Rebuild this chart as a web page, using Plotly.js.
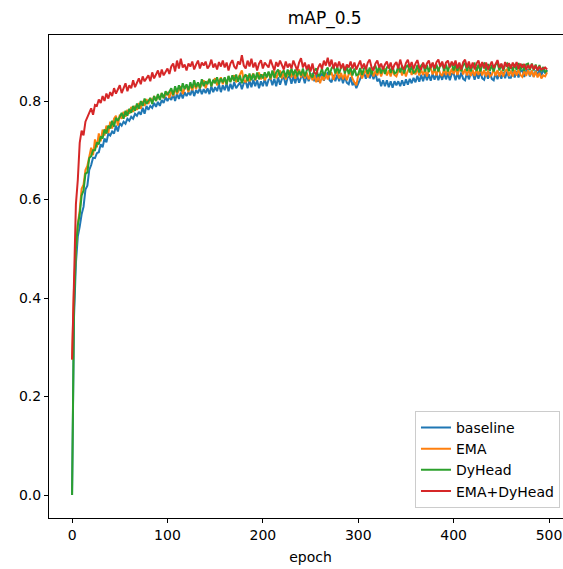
<!DOCTYPE html>
<html>
<head>
<meta charset="utf-8">
<script src="https://cdn.plot.ly/plotly-3.0.1.min.js"></script>
<style>
html,body{margin:0;padding:0;overflow:hidden;background:#fff;}
#chart{width:590px;height:569px;}
</style>
</head>
<body>
<div id="chart"></div>
<script>
// mAP_0.5 values sampled every 2 epochs (epoch 0, 2, 4, ... 498)
const seriesNames = ["baseline", "EMA", "DyHead", "EMA+DyHead"];
const seriesColors = ["#1f77b4", "#ff7f0e", "#2ca02c", "#d62728"];

const baseline = [
0,.36,.47,.525,.545,.57,.585,.62,.628,.66,
.67,.685,.684,.694,.696,.712,.706,.724,.716,.734,
.73,.738,.734,.75,.738,.755,.75,.758,.754,.764,
.76,.768,.764,.774,.77,.778,.772,.786,.774,.79,
.782,.79,.786,.796,.788,.798,.79,.802,.796,.808,
.80,.808,.802,.814,.80,.815,.804,.817,.805,.818,
.81,.818,.812,.824,.81,.822,.816,.826,.814,.824,
.816,.826,.814,.83,.818,.828,.82,.834,.818,.832,
.822,.836,.82,.835,.824,.838,.826,.832,.838,.824,
.836,.84,.826,.842,.828,.843,.83,.842,.826,.84,
.83,.845,.83,.843,.846,.832,.845,.83,.848,.833,
.845,.848,.832,.848,.85,.835,.85,.836,.852,.837,
.848,.851,.836,.853,.84,.852,.855,.84,.853,.839,
.852,.855,.841,.854,.857,.842,.838,.853,.84,.854,
.84,.852,.836,.85,.837,.834,.848,.832,.838,.826,
.835,.842,.854,.858,.845,.86,.846,.858,.844,.857,
.84,.845,.83,.842,.83,.842,.828,.84,.827,.84,
.832,.84,.83,.842,.831,.844,.833,.845,.836,.847,
.838,.851,.839,.853,.84,.855,.842,.854,.841,.856,
.843,.856,.842,.855,.843,.857,.844,.856,.842,.855,
.856,.842,.857,.844,.858,.845,.842,.857,.844,.856,
.857,.843,.858,.845,.859,.846,.843,.858,.845,.859,
.845,.842,.857,.844,.858,.845,.859,.846,.86,.847,
.847,.86,.848,.861,.848,.86,.862,.849,.861,.863,
.85,.862,.849,.862,.851,.864,.852,.864,.856,.863
];

const ema = [
.275,.42,.50,.55,.578,.622,.63,.66,.668,.69,
.705,.69,.722,.706,.734,.718,.742,.73,.75,.735,
.758,.744,.764,.77,.75,.772,.764,.778,.768,.782,
.774,.788,.778,.79,.782,.796,.784,.80,.79,.804,
.794,.806,.798,.81,.80,.812,.804,.816,.806,.812,
.818,.806,.822,.81,.826,.814,.822,.83,.814,.826,
.832,.818,.834,.822,.836,.824,.838,.826,.834,.842,
.826,.838,.844,.83,.84,.846,.832,.842,.848,.834,
.846,.834,.85,.84,.846,.852,.838,.848,.854,.862,
.842,.838,.852,.84,.85,.856,.842,.852,.858,.844,
.854,.842,.852,.858,.844,.856,.86,.846,.856,.862,
.846,.858,.844,.856,.862,.848,.86,.845,.858,.864,
.848,.86,.846,.858,.844,.855,.842,.853,.838,.85,
.836,.85,.842,.856,.844,.854,.858,.843,.855,.86,
.846,.857,.844,.856,.842,.854,.858,.845,.838,.832,
.852,.858,.846,.857,.862,.848,.859,.864,.85,.861,
.852,.864,.85,.861,.866,.852,.862,.85,.864,.853,
.85,.861,.866,.852,.863,.85,.862,.867,.853,.864,
.854,.866,.852,.863,.853,.864,.85,.862,.867,.854,
.864,.852,.867,.855,.851,.865,.853,.864,.852,.866,
.855,.867,.853,.864,.868,.854,.865,.852,.864,.851,
.863,.851,.864,.853,.866,.852,.863,.85,.862,.85,
.853,.865,.851,.863,.85,.862,.85,.861,.865,.851,
.862,.85,.863,.852,.864,.853,.849,.862,.851,.863,
.852,.862,.849,.86,.848,.857,.846,.852,.85,.858
];

const dyhead = [
0,.38,.50,.548,.57,.608,.618,.652,.655,.684,
.688,.70,.70,.716,.712,.728,.724,.742,.734,.75,
.744,.76,.748,.766,.76,.768,.776,.764,.78,.77,
.784,.776,.79,.78,.795,.784,.80,.79,.805,.794,
.80,.806,.794,.81,.80,.814,.802,.816,.806,.82,
.812,.818,.826,.812,.83,.818,.832,.82,.836,.824,
.834,.822,.838,.826,.842,.828,.838,.826,.844,.83,
.84,.834,.845,.83,.843,.836,.848,.834,.846,.838,
.848,.834,.851,.838,.852,.84,.854,.839,.852,.836,
.848,.854,.84,.856,.842,.855,.843,.858,.844,.854,
.846,.858,.848,.86,.846,.862,.847,.858,.864,.848,
.858,.862,.848,.864,.85,.866,.852,.864,.85,.861,
.852,.866,.85,.862,.868,.852,.848,.862,.866,.851,
.854,.866,.85,.862,.868,.853,.866,.872,.856,.869,
.856,.869,.872,.856,.87,.855,.868,.852,.866,.852,
.854,.867,.853,.866,.87,.855,.868,.854,.867,.872,
.857,.871,.856,.869,.855,.868,.872,.857,.87,.856,
.858,.871,.858,.872,.856,.869,.873,.858,.871,.857,
.86,.873,.858,.872,.876,.86,.873,.859,.872,.875,
.861,.874,.86,.873,.877,.861,.874,.86,.873,.876,
.862,.875,.861,.874,.86,.873,.877,.861,.874,.86,
.873,.876,.861,.874,.86,.873,.876,.862,.875,.861,
.873,.86,.874,.877,.862,.875,.861,.873,.876,.861,
.874,.861,.875,.863,.877,.862,.875,.861,.874,.876,
.863,.876,.862,.874,.861,.873,.86,.869,.859,.862
];

const emaDyhead = [
.275,.47,.59,.64,.715,.74,.73,.758,.768,.775,
.785,.772,.792,.79,.803,.796,.81,.80,.815,.805,
.818,.81,.826,.815,.822,.832,.816,.828,.836,.82,
.832,.826,.842,.828,.838,.846,.834,.85,.84,.845,
.852,.84,.858,.846,.855,.862,.848,.864,.852,.858,
.866,.855,.87,.876,.86,.882,.866,.886,.868,.874,
.862,.876,.87,.88,.864,.874,.882,.866,.878,.872,
.88,.866,.872,.884,.868,.876,.864,.879,.87,.882,
.868,.878,.862,.876,.883,.87,.865,.88,.874,.893,
.872,.866,.882,.87,.886,.868,.878,.862,.876,.883,
.866,.878,.872,.868,.884,.874,.862,.879,.87,.882,
.874,.864,.88,.868,.876,.866,.882,.872,.862,.878,
.887,.868,.878,.864,.874,.86,.876,.858,.854,.868,
.876,.865,.882,.872,.888,.87,.884,.866,.878,.868,
.88,.866,.876,.862,.874,.868,.88,.866,.878,.864,
.874,.882,.866,.876,.864,.878,.884,.868,.862,.876,
.882,.868,.876,.864,.874,.88,.866,.878,.863,.874,
.879,.866,.884,.87,.864,.877,.884,.868,.879,.865,
.876,.883,.868,.864,.878,.866,.876,.882,.867,.878,
.866,.879,.884,.87,.88,.866,.878,.882,.868,.88,
.872,.882,.866,.878,.864,.879,.884,.868,.88,.866,
.878,.864,.876,.882,.868,.879,.866,.878,.864,.874,
.88,.867,.877,.883,.868,.876,.864,.879,.869,.877,
.866,.878,.868,.879,.865,.876,.868,.875,.864,.873,
.866,.875,.864,.872,.862,.87,.864,.866,.868,.864
];

const epochStep = 2;
const epochs = baseline.map((_, i) => i * epochStep);
const xTicks = [0, 100, 200, 300, 400, 500];
const yTicks = [0.0, 0.2, 0.4, 0.6, 0.8];
const yTickText = ["0.0", "0.2", "0.4", "0.6", "0.8"];

const allSeries = [baseline, ema, dyhead, emaDyhead];
const traces = allSeries.map((vals, k) => ({
  x: epochs,
  y: vals,
  type: "scatter",
  mode: "lines",
  name: seriesNames[k],
  line: {color: seriesColors[k], width: 2}
}));

const font = "DejaVu Sans, sans-serif";
const layout = {
  width: 590,
  height: 569,
  margin: {l: 49, r: 18, t: 35, b: 51},
  paper_bgcolor: "#fff",
  plot_bgcolor: "#fff",
  font: {family: font, size: 14, color: "#000"},
  title: {
    text: "mAP_0.5",
    font: {family: font, size: 17, color: "#000"},
    x: 311 / 590,
    xanchor: "center",
    xref: "paper",
    y: 1 - 18 / 569,
    yref: "container",
    yanchor: "middle"
  },
  xaxis: {
    range: [-24.2, 524.1],
    tickvals: xTicks,
    ticktext: xTicks.map(String),
    ticks: "outside",
    ticklen: 4,
    tickwidth: 1,
    tickcolor: "#000",
    showline: true,
    linecolor: "#000",
    linewidth: 1,
    mirror: true,
    showgrid: false,
    zeroline: false,
    tickfont: {family: font, size: 14, color: "#000"},
    title: {text: "epoch", font: {family: font, size: 14, color: "#000"}, standoff: 10}
  },
  yaxis: {
    range: [-0.0467, 0.934],
    tickvals: yTicks,
    ticktext: yTickText,
    ticks: "outside",
    ticklen: 4,
    tickwidth: 1,
    tickcolor: "#000",
    showline: true,
    linecolor: "#000",
    linewidth: 1,
    mirror: true,
    showgrid: false,
    zeroline: false,
    tickfont: {family: font, size: 14, color: "#000"}
  },
  showlegend: true,
  legend: {
    x: 0.977,
    y: 0.021,
    xanchor: "right",
    yanchor: "bottom",
    bgcolor: "rgba(255,255,255,0.8)",
    bordercolor: "#cccccc",
    borderwidth: 1,
    font: {family: font, size: 14, color: "#000"},
    tracegroupgap: 0
  }
};

Plotly.newPlot("chart", traces, layout, {displayModeBar: false, staticPlot: true});
</script>
</body>
</html>
